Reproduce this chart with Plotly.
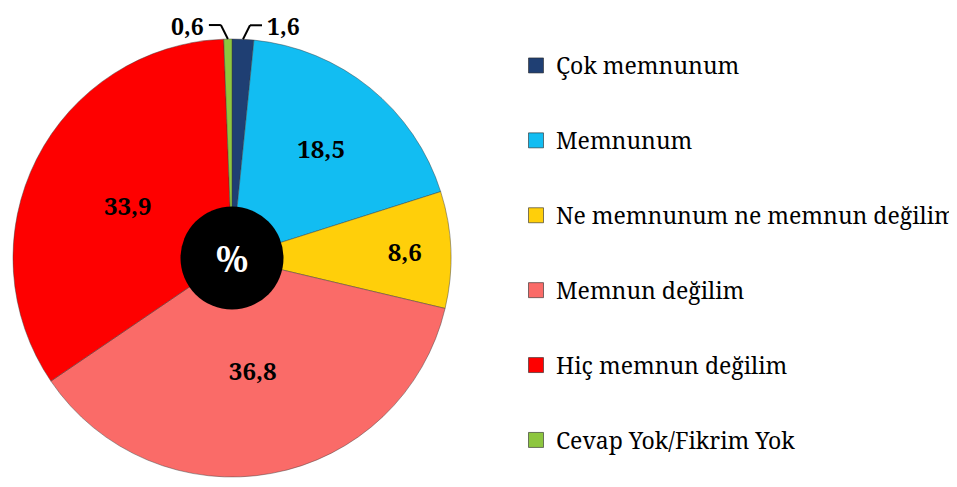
import math
import plotly.graph_objects as go

categories = ["Çok memnunum", "Memnunum", "Ne memnunum ne memnun değilim",
              "Memnun değilim", "Hiç memnun değilim", "Cevap Yok/Fikrim Yok"]
values = [1.6, 18.5, 8.6, 36.8, 33.9, 0.6]
colors = ["#1F3F73", "#12BDF2", "#FFCF0A", "#FA6B68", "#FE0000", "#8DC63F"]
center_label = "%"

# page body has an 8px margin; work in figure pixel coordinates
OFF = 8
W, H = 957 - OFF, 487 - OFF
cx, cy, r = 232 - OFF, 258 - OFF, 219
rh = 51.5
SERIF = "Noto Serif"


def fmt(v):
    return f"{v:.1f}".replace(".", ",")


def px(x):
    return x / W


def py(y):
    return 1 - y / H


labels_text = [fmt(v) for v in values]
small = [v < 5 for v in values]
positions = ["none" if s else "inside" for s in small]

fig = go.Figure()
fig.add_trace(go.Pie(
    labels=categories, values=values, sort=False, direction="clockwise", rotation=0,
    marker=dict(colors=colors, line=dict(color="rgba(60,60,60,0.45)", width=1)),
    text=labels_text, texttemplate="<b>%{text}</b>", textposition=positions,
    insidetextorientation="horizontal",
    textfont=dict(family=SERIF, size=24, color="black"),
    domain=dict(x=[px(cx - r), px(cx + r)], y=[py(cy + r), py(cy - r)]),
    showlegend=False, hoverinfo="skip",
))
fig.add_trace(go.Pie(
    labels=[center_label], values=[1], sort=False,
    marker=dict(colors=["black"], line=dict(width=0)),
    text=[center_label], texttemplate="<b>%{text}</b>", textposition="inside",
    textfont=dict(family=SERIF, size=36, color="white"),
    domain=dict(x=[px(cx - rh), px(cx + rh)], y=[py(cy + rh), py(cy - rh)]),
    showlegend=False, hoverinfo="skip",
))

# outside labels with elbow leader lines for the thin slices
total = sum(values)
cum = 0.0
shapes, annots = [], []
for v, s, t in zip(values, small, labels_text):
    mid = (cum + v / 2) / total * 2 * math.pi
    cum += v
    if not s:
        continue
    sx = cx + r * math.sin(mid)
    sy = cy - r * math.cos(mid)
    side = 1 if math.sin(mid) >= 0 else -1
    ex, ey = sx + side * 7, sy - 14
    hx = ex + side * 12
    line = dict(color="black", width=2)
    shapes.append(dict(type="line", xref="paper", yref="paper",
                       x0=px(sx), y0=py(sy), x1=px(ex), y1=py(ey), line=line))
    shapes.append(dict(type="line", xref="paper", yref="paper",
                       x0=px(ex), y0=py(ey), x1=px(hx), y1=py(ey), line=line))
    annots.append(dict(xref="paper", yref="paper", x=px(hx + side * 3), y=1,
                       text=f"<b>{t}</b>", showarrow=False,
                       xanchor="left" if side > 0 else "right", yanchor="top",
                       font=dict(family=SERIF, size=23, color="black")))

for i, (c, col) in enumerate(zip(categories, colors)):
    fig.add_trace(go.Scatter(
        x=[None], y=[None], mode="markers", name=c, legendgroup=f"g{i}",
        marker=dict(symbol="square", size=15, color=col,
                    line=dict(color="rgba(40,40,40,0.6)", width=1)),
    ))

fig.update_layout(
    template="none",
    width=W, height=H, margin=dict(l=0, r=0, t=0, b=0, autoexpand=False),
    paper_bgcolor="white", plot_bgcolor="white",
    font=dict(family=SERIF, color="black"),
    xaxis=dict(visible=False), yaxis=dict(visible=False),
    shapes=shapes, annotations=annots,
    legend=dict(x=px(508), xanchor="left", y=py(36), yanchor="top",
                font=dict(family=SERIF, size=23, color="black"),
                tracegroupgap=42, bgcolor="rgba(0,0,0,0)", borderwidth=0),
)
fig.write_html("out.html")
